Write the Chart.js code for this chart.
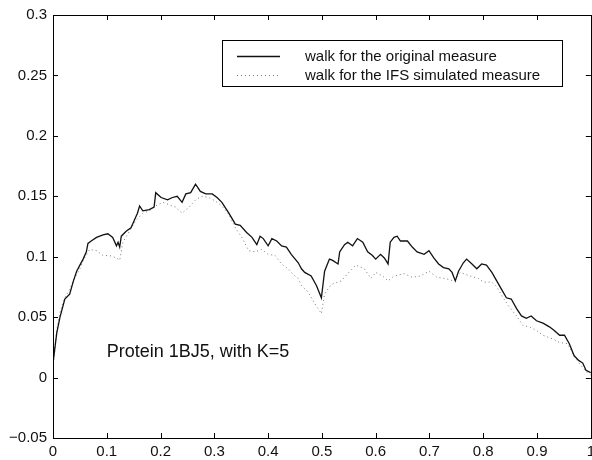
<!DOCTYPE html>
<html>
<head>
<meta charset="utf-8">
<script src="https://cdn.jsdelivr.net/npm/chart.js@4/dist/chart.umd.min.js"></script>
<style>
  html, body { margin: 0; padding: 0; background: #fff; overflow: hidden; }
  #wrap { width: 592px; height: 460px; overflow: hidden; }
</style>
</head>
<body>
<div id="wrap"><canvas id="walk" width="600" height="460"></canvas></div>
<script>
// walk for the original measure
var xOrig = [0, 0.007, 0.013, 0.022, 0.031, 0.038, 0.044, 0.050, 0.056, 0.062, 0.065, 0.071, 0.081, 0.093,
  0.102, 0.111, 0.118, 0.121, 0.124, 0.127, 0.136, 0.145, 0.151, 0.157, 0.161, 0.167, 0.179, 0.188,
  0.191, 0.201, 0.213, 0.222, 0.231, 0.240, 0.247, 0.256, 0.265, 0.274, 0.284, 0.296, 0.305, 0.314,
  0.327, 0.339, 0.348, 0.360, 0.370, 0.379, 0.385, 0.391, 0.400, 0.407, 0.416, 0.425, 0.434, 0.443,
  0.456, 0.462, 0.468, 0.480, 0.490, 0.499, 0.505, 0.514, 0.520, 0.530, 0.533, 0.542, 0.548, 0.557,
  0.566, 0.576, 0.585, 0.594, 0.600, 0.609, 0.616, 0.623, 0.627, 0.634, 0.640, 0.646, 0.659, 0.668,
  0.677, 0.690, 0.699, 0.708, 0.717, 0.726, 0.736, 0.742, 0.748, 0.754, 0.763, 0.769, 0.779, 0.788,
  0.797, 0.806, 0.816, 0.825, 0.834, 0.843, 0.852, 0.862, 0.871, 0.880, 0.889, 0.899, 0.911, 0.923,
  0.932, 0.942, 0.951, 0.960, 0.969, 0.978, 0.985, 0.991, 1.0];
var yOrig = [0.012, 0.037, 0.050, 0.065, 0.069, 0.080, 0.088, 0.093, 0.098, 0.104, 0.111, 0.113, 0.116, 0.118,
  0.119, 0.116, 0.109, 0.112, 0.108, 0.117, 0.121, 0.124, 0.130, 0.136, 0.142, 0.138, 0.139, 0.141,
  0.153, 0.149, 0.147, 0.149, 0.150, 0.145, 0.152, 0.153, 0.160, 0.154, 0.152, 0.152, 0.149, 0.145,
  0.136, 0.127, 0.126, 0.120, 0.116, 0.110, 0.117, 0.115, 0.109, 0.115, 0.113, 0.109, 0.108, 0.102,
  0.095, 0.090, 0.087, 0.084, 0.076, 0.066, 0.088, 0.098, 0.097, 0.094, 0.104, 0.110, 0.112, 0.109,
  0.115, 0.112, 0.104, 0.101, 0.098, 0.102, 0.099, 0.094, 0.112, 0.116, 0.117, 0.113, 0.113, 0.108,
  0.104, 0.102, 0.105, 0.099, 0.094, 0.091, 0.090, 0.087, 0.080, 0.088, 0.095, 0.098, 0.094, 0.090,
  0.094, 0.093, 0.087, 0.080, 0.073, 0.066, 0.065, 0.057, 0.051, 0.049, 0.051, 0.047, 0.045, 0.042,
  0.039, 0.035, 0.035, 0.028, 0.018, 0.014, 0.012, 0.006, 0.004];

// walk for the IFS simulated measure
var xIfs = [0, 0.007, 0.013, 0.022, 0.031, 0.041, 0.050, 0.056, 0.068, 0.081, 0.093, 0.105, 0.118, 0.124,
  0.130, 0.142, 0.154, 0.167, 0.179, 0.191, 0.204, 0.216, 0.228, 0.240, 0.253, 0.265, 0.277, 0.290,
  0.302, 0.314, 0.327, 0.339, 0.351, 0.364, 0.376, 0.388, 0.400, 0.413, 0.425, 0.437, 0.450, 0.456,
  0.462, 0.474, 0.487, 0.499, 0.505, 0.517, 0.536, 0.548, 0.563, 0.579, 0.591, 0.600, 0.613, 0.623,
  0.634, 0.653, 0.668, 0.683, 0.699, 0.714, 0.729, 0.745, 0.757, 0.776, 0.791, 0.800, 0.816, 0.825,
  0.837, 0.849, 0.862, 0.874, 0.886, 0.899, 0.911, 0.929, 0.942, 0.957, 0.966, 0.978, 0.991, 1.0];
var yIfs = [0.008, 0.039, 0.054, 0.066, 0.073, 0.083, 0.090, 0.097, 0.106, 0.105, 0.101, 0.101, 0.099, 0.097,
  0.112, 0.121, 0.130, 0.136, 0.138, 0.142, 0.145, 0.143, 0.141, 0.136, 0.141, 0.147, 0.150, 0.149,
  0.146, 0.142, 0.135, 0.124, 0.116, 0.105, 0.104, 0.106, 0.102, 0.101, 0.094, 0.090, 0.084, 0.082,
  0.076, 0.071, 0.061, 0.053, 0.069, 0.077, 0.080, 0.086, 0.093, 0.090, 0.082, 0.087, 0.084, 0.080,
  0.084, 0.086, 0.083, 0.084, 0.088, 0.083, 0.082, 0.080, 0.087, 0.084, 0.082, 0.079, 0.079, 0.075,
  0.066, 0.058, 0.051, 0.043, 0.042, 0.039, 0.035, 0.032, 0.029, 0.028, 0.020, 0.012, 0.005, 0.002];

var xTicks = [0, 0.1, 0.2, 0.3, 0.4, 0.5, 0.6, 0.7, 0.8, 0.9, 1];
var yTicks = [-0.05, 0, 0.05, 0.1, 0.15, 0.2, 0.25, 0.3];

var seriesNames = ['walk for the original measure', 'walk for the IFS simulated measure'];
var noteText = 'Protein 1BJ5, with K=5';

function pts(xs, ys) {
  return xs.map(function (x, i) { return { x: x, y: ys[i] }; });
}

function fmt(v) {
  var s = String(parseFloat(v.toFixed(2)));
  return s.charAt(0) === '-' ? '\u2212' + s.slice(1) : s;
}

var FONT = '"Liberation Sans", Arial, Helvetica, sans-serif';

// box around the axes, inward tick marks, legend and the text note
var matlabAxes = {
  id: 'matlabAxes',
  afterDraw: function (chart) {
    var ctx = chart.ctx, a = chart.chartArea;
    var sx = chart.scales.x, sy = chart.scales.y;
    ctx.save();
    ctx.strokeStyle = '#000';
    ctx.lineWidth = 1;
    ctx.strokeRect(Math.round(a.left) + 0.5, Math.round(a.top) + 0.5,
      Math.round(a.right - a.left), Math.round(a.bottom - a.top));
    ctx.beginPath();
    xTicks.forEach(function (v) {
      var px = Math.round(sx.getPixelForValue(v)) + 0.5;
      ctx.moveTo(px, a.bottom); ctx.lineTo(px, a.bottom - 5);
      ctx.moveTo(px, a.top); ctx.lineTo(px, a.top + 5);
    });
    yTicks.forEach(function (v) {
      var py = Math.round(sy.getPixelForValue(v)) + 0.5;
      ctx.moveTo(a.left, py); ctx.lineTo(a.left + 5, py);
      ctx.moveTo(a.right, py); ctx.lineTo(a.right - 5, py);
    });
    ctx.stroke();

    // legend
    var bx = 222.5, by = 40.5, bw = 340, bh = 46;
    ctx.fillStyle = '#fff';
    ctx.fillRect(bx, by, bw, bh);
    ctx.strokeRect(bx, by, bw, bh);
    ctx.font = '15px ' + FONT;
    ctx.textBaseline = 'middle';
    ctx.textAlign = 'left';
    chart.data.datasets.forEach(function (ds, i) {
      var ry = 56.5 + i * 19;
      ctx.save();
      ctx.strokeStyle = ds.borderColor;
      ctx.lineWidth = ds.borderWidth;
      ctx.setLineDash(ds.borderDash || []);
      ctx.beginPath();
      ctx.moveTo(237, ry); ctx.lineTo(280, ry);
      ctx.stroke();
      ctx.restore();
      ctx.fillStyle = '#111';
      ctx.fillText(ds.label, 305, ry);
    });

    // note inside the axes
    ctx.font = '18px ' + FONT;
    ctx.fillStyle = '#111';
    ctx.textBaseline = 'middle';
    ctx.fillText(noteText, sx.getPixelForValue(0.1), sy.getPixelForValue(0.021));
    ctx.restore();
  }
};

new Chart(document.getElementById('walk'), {
  type: 'line',
  data: {
    datasets: [{
      label: seriesNames[0],
      data: pts(xOrig, yOrig),
      borderColor: '#111',
      borderWidth: 1.3,
      pointRadius: 0,
      tension: 0
    }, {
      label: seriesNames[1],
      data: pts(xIfs, yIfs),
      borderColor: '#777',
      borderWidth: 1,
      borderDash: [1, 3],
      pointRadius: 0,
      tension: 0
    }]
  },
  options: {
    responsive: false,
    animation: false,
    layout: { padding: { top: 13, right: 6, left: 0, bottom: 0 } },
    plugins: { legend: { display: false }, tooltip: { enabled: false } },
    scales: {
      x: {
        type: 'linear',
        min: 0,
        max: 1,
        afterBuildTicks: function (s) { s.ticks = xTicks.map(function (v) { return { value: v }; }); },
        afterFit: function (s) { s.height = 22; },
        grid: { display: false, drawTicks: false },
        border: { display: false },
        ticks: { color: '#111', font: { family: FONT, size: 15 }, padding: 5, maxRotation: 0,
          autoSkip: false, callback: function (v) { return fmt(v); } }
      },
      y: {
        min: -0.05,
        max: 0.3,
        afterBuildTicks: function (s) { s.ticks = yTicks.map(function (v) { return { value: v }; }); },
        afterFit: function (s) { s.width = 53; },
        grid: { display: false, drawTicks: false },
        border: { display: false },
        ticks: { color: '#111', font: { family: FONT, size: 15 }, padding: 6,
          autoSkip: false, callback: function (v) { return fmt(v); } }
      }
    }
  },
  plugins: [matlabAxes]
});
</script>
</body>
</html>
